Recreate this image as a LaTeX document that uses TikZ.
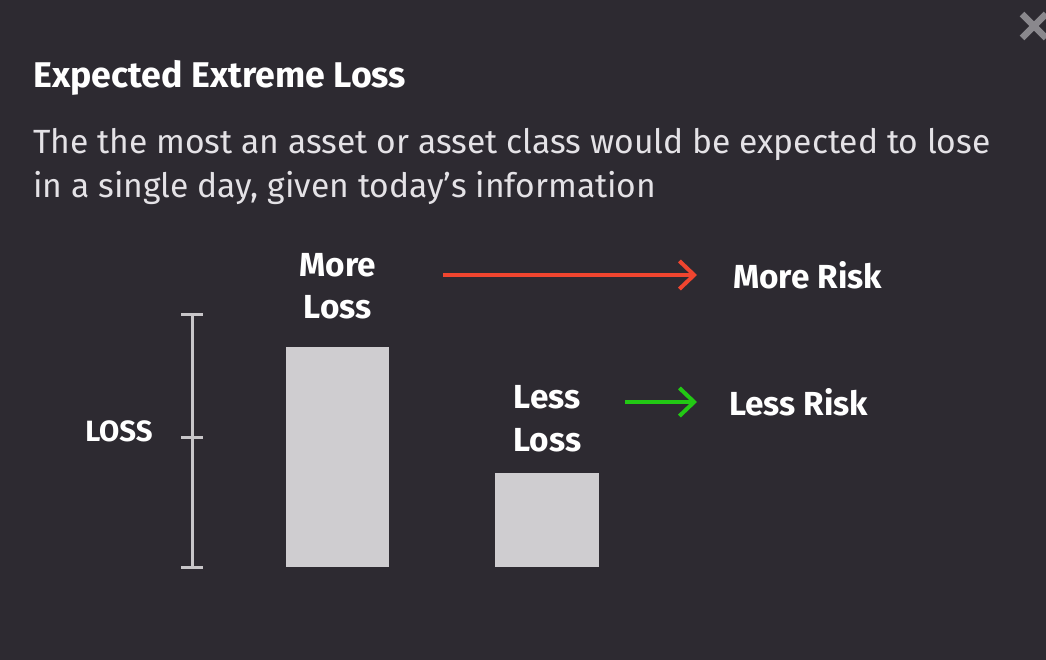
\documentclass[tikz,border=0pt]{standalone}
\usepackage{fontspec}
\setmainfont{Fira Sans}
\usetikzlibrary{positioning,arrows.meta}
\definecolor{panelbg}{HTML}{2D2A31}
\definecolor{bodytext}{HTML}{E4E2E6}
\definecolor{barfill}{HTML}{CFCDD0}
\definecolor{axisgray}{HTML}{C8C6C9}
\definecolor{closegray}{HTML}{8A888D}
\definecolor{riskred}{HTML}{F0452F}
\definecolor{riskgreen}{HTML}{22C814}
\tikzset{
	title/.style={text=white, inner sep=0pt, font=\fontsize{26.8pt}{30pt}\selectfont\bfseries},
	desc/.style={text=bodytext, inner sep=0pt, align=left, font=\fontsize{25.2pt}{33pt}\selectfont},
	lbl/.style={text=white, inner sep=0pt, align=center, font=\fontsize{25pt}{32pt}\selectfont\bfseries},
	bar/.style={fill=barfill, inner sep=0pt, anchor=south west},
	axis/.style={axisgray, line width=2.25pt},
	riskarrow/.style={line width=3pt, -{Straight Barb[length=11pt, width=21pt, line width=3pt]}}
}
\begin{document}
\begin{tikzpicture}[x=0.75pt, y=-0.75pt]
	\fill[panelbg] (0,0) rectangle (1046,660);
	\useasboundingbox (0,0) rectangle (1046,660);
	\begin{scope}
		\clip (0,0) rectangle (1046,660);
		\draw[closegray, line width=5pt] (1022,14) -- (1046,38) (1022,38) -- (1046,14);
	\end{scope}

	\node[title, anchor=base west] (heading) at (33,88) {Expected Extreme Loss};
	\node[desc, anchor=base west] (info) at (33,197) {The the most an asset or asset class would be expected to lose\\in a single day, given today's information};

	% loss scale
	\draw[axis] (192,314) -- (192,567);
	\foreach \y in {314,437,567}
		\draw[axis] (181,\y) -- (203,\y);
	\node[lbl, font=\fontsize{22pt}{26pt}\selectfont\bfseries] (losslabel) at (119,431) {LOSS};

	% bars
	\node[bar, minimum width=77.25pt, minimum height=165pt] (bigbar) at (286,567) {};
	\node[bar, minimum width=78pt, minimum height=70.5pt] (smallbar) at (495,567) {};
	\node[lbl, above=20pt of bigbar] (moreloss) {More\\Loss};
	\node[lbl, above=15pt of smallbar] (lessloss) {Less\\Loss};

	% risk arrows
	\node[lbl, anchor=west] (morerisk) at (733,275) {More Risk};
	\node[lbl, anchor=west] (lessrisk) at (729,402) {Less Risk};
	\coordinate (redstart) at (443,275);
	\coordinate (greenstart) at (625,402);
	\draw[riskarrow, riskred, shorten >=27pt] (redstart) -- (morerisk.west);
	\draw[riskarrow, riskgreen, shorten >=24pt] (greenstart) -- (lessrisk.west);
\end{tikzpicture}
\end{document}
